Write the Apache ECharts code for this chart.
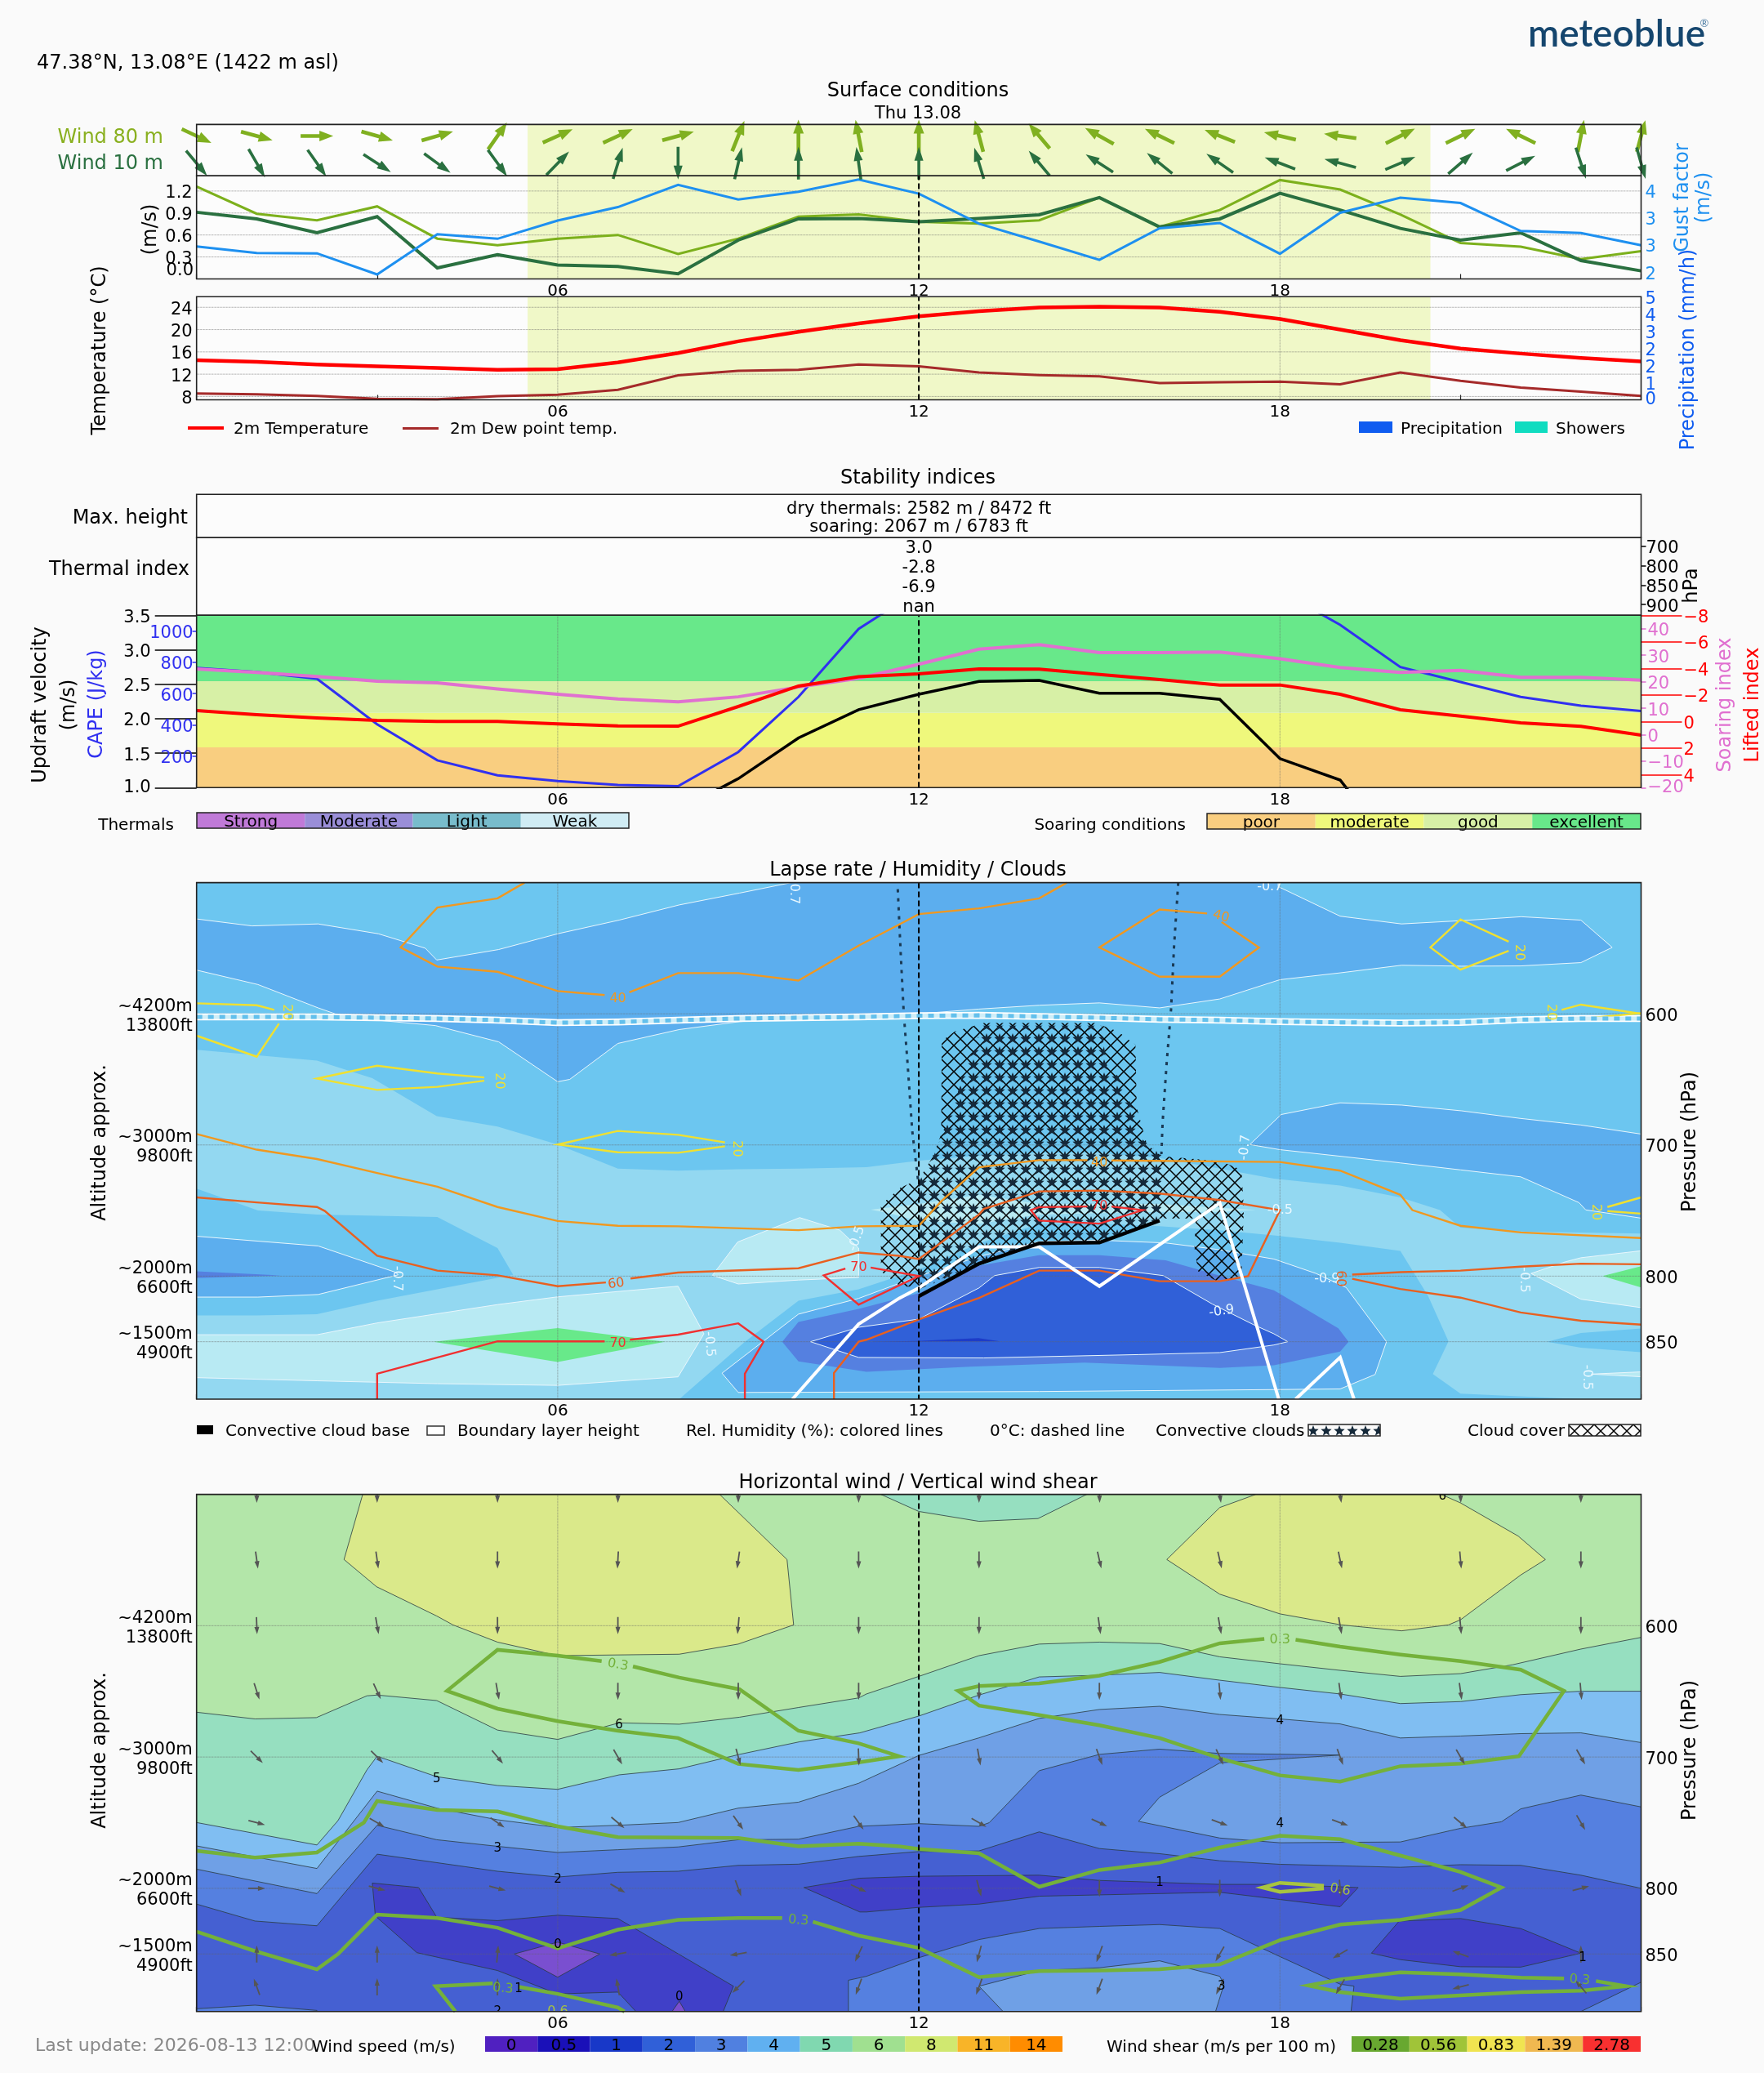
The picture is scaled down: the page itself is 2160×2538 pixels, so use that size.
<!DOCTYPE html>
<html><head><meta charset="utf-8"><title>meteoblue</title>
<style>html,body{margin:0;padding:0;background:#fafafa}#c{width:2160px;height:2538px}</style>
<script src="https://cdn.jsdelivr.net/npm/echarts@6/dist/echarts.min.js"></script>
</head><body><div id="c"></div>
<script>
// ---------- surface conditions ----------
const hourTicks = ['06', '12', '18'];
const wind80Heading = [115,105,90,106,74,35,66,65,75,22,0,-11,0,-15,-40,-61,-64,-68,-77,-82,63,64,-64,11,15];
const wind10Heading = [140,150,145,123,126,144,44,17,180,13,0,-8,0,-17,-40,-57,-51,-55,-69,-75,67,49,63,162,164];
const wind80Speed = [1.26,0.89,0.80,0.99,0.55,0.46,0.55,0.60,0.34,0.55,0.85,0.88,0.78,0.755,0.80,1.11,0.71,0.94,1.35,1.22,0.88,0.49,0.44,0.27,0.38];
const wind10Speed = [0.91,0.82,0.63,0.85,0.15,0.33,0.19,0.17,0.07,0.53,0.82,0.825,0.78,0.825,0.875,1.11,0.71,0.82,1.17,0.94,0.69,0.53,0.63,0.25,0.11];
const gustFactor = [2.63,2.47,2.46,1.94,2.93,2.82,3.27,3.60,4.15,3.79,3.98,4.28,3.93,3.19,2.75,2.30,3.08,3.21,2.45,3.46,3.83,3.70,3.01,2.96,2.66];
const temperature2m = [14.5,14.2,13.75,13.4,13.1,12.8,12.9,14.1,15.8,17.9,19.6,21.1,22.4,23.3,23.95,24.1,23.95,23.2,21.9,20,18.1,16.6,15.7,14.9,14.3];
const dewPoint2m = [8.55,8.4,8.1,7.6,7.5,8.05,8.3,9.2,11.8,12.6,12.8,13.75,13.4,12.3,11.85,11.6,10.4,10.55,10.65,10.2,12.3,10.8,9.6,8.85,8.1];
const speedTicks = [0.3,0.6,0.9,1.2];
const gustTicks = [2,8/3,10/3,4];
const tempTicks = [8,12,16,20,24];
const precipTicks = [5/6,5/3,2.5,10/3,25/6,5];
const precipTickLabels = ['1','2','2','3','4','5'];

// ---------- stability indices ----------
const updraft = [null,null,null,null,null,null,null,null,0.67,1.13,1.72,2.13,2.355,2.54,2.556,2.37,2.37,2.28,1.42,1.11,0.0,null,null,null,null];
const cape = [763,737,694,404,174,78,42,17,9,227,578,1012,1258,1500,1500,1500,1500,1500,1253,1038,769,673,578,522,488];
const soaringIndex = [24.8,23.5,22,20.2,19.6,17.3,15.3,13.5,12.4,14.3,18,21.3,26.6,32.3,34,31,31,31.2,28.7,25.4,23.5,24.3,21.7,21.7,20.6];
const liftedIndex = [-0.82,-0.51,-0.27,-0.08,0,0,0.18,0.33,0.35,-1.13,-2.67,-3.38,-3.59,-3.96,-3.94,-3.55,-3.16,-2.75,-2.75,-2.05,-0.88,-0.41,0.10,0.37,1.03];
const updraftTicks = [1,1.5,2,2.5,3,3.5];
const capeTicks = [200,400,600,800,1000];
const soaringTicks = [-20,-10,0,10,20,30,40];
const liftedTicks = [-8,-6,-4,-2,0,2,4];
const soaringThresholds = [1,1.585,2.086,2.544,3.5];
const thermalLevels = ['700','800','850','900'];
const thermalValues = ['3.0','-2.8','-6.9','nan'];
const thermalsLegend = ['Strong','Moderate','Light','Weak'];
const soaringLegend = ['poor','moderate','good','excellent'];

// ---------- lapse rate bands: [hour, hPa] outlines ----------
const P0 = 500, P1 = 893.8;
const lapseFull = [[0,P0],[24,P0],[24,P1],[0,P1]];
const lapseLight = [[0,627.4],[2,635.7],[2.92,649],[3.99,678],[5,686],[6,699.7],[7,718],[8,719.6],[9,718.5],[10,718],[11.13,717],[12,712],[13,708],[14,706],[15,706],[16,710],[17,718],[17.9,725.7],[19,731],[20,740],[20.66,749.6],[21,763],[22,766],[24,767.5],[24,P1],[0,P1]];
const lapseMidLeft = [[0,733.3],[1.02,750],[2,753],[4,755],[5,778.6],[5.26,799],[4,810],[3,818.7],[2,829],[1,830],[0,830]];
const lapseMidCentre = [[8.02,P1],[9.11,850],[10,818.7],[11,810],[12,795],[13,775],[14,760],[15,760],[16,762],[17,765],[17.9,769],[19,774.5],[20,780.8],[20.46,815],[20.8,849.7],[20.54,874.7],[21,889.6],[23,P1]];
const lapseMidRight = [[22.44,850],[23,843.3],[24,840],[24,858],[23,854.5]];
const lapsePaleLeft = [[0,844.7],[2,844.7],[3,835.7],[5,821.7],[6,815.8],[8,807.7],[8.43,844],[8,876.8],[6,883.3],[4,882],[2,879.8],[0,877.4]];
const lapsePaleMid = [[8.57,799.4],[8.99,774],[10.02,755.4],[10.69,765],[11,778.6],[11,801],[10,803],[9,806]];
const lapsePaleCloud = [[11.2,749.4],[12,745],[13,738],[14,745],[15,745],[16,745],[17,748],[17.6,749.5],[17,751],[16,751],[15,752],[14,753],[13,760],[12,758],[11.5,752]];
const lapsePaleRight = [[22.17,798],[22.75,789],[23,786],[24,780.7],[24,824],[23,817.6]];
const lapsePaleSliver = [[23.17,874.7],[24,873],[24,876.7]];
const lapseGreenLeft = [[3.94,850],[6,839.6],[7.78,850],[6,865.5]];
const lapseGreenRight = [[23.36,800],[24,792.5],[24,808.7]];
const lapseBlueTop = [[0,527.7],[0.92,533],[2.02,531.5],[3.02,539],[3.8,550],[3.99,559],[5.02,551],[6,539],[7.02,528.6],[8.02,517],[9.02,508],[9.88,500],[17.97,500],[17.97,503],[19,525.6],[20.02,531.5],[21.02,529],[22.01,526],[23,528.6],[23.52,549.4],[23,561],[22,563.5],[21.02,563.7],[20.02,563],[19,568.8],[18,574],[17,588.7],[16,595.5],[15,591.7],[14,593.5],[13,596.4],[12,600],[11,602],[10,603],[9.02,606],[8.02,612],[7,622.6],[6.2,650],[6,651.8],[5.02,621.4],[3.97,609],[2.92,604.5],[2.3,600],[2.02,595.5],[1.02,577.7],[0,566.7]];
const lapseBlueLeft = [[0,769.6],[2.02,777],[3.3,797],[3.35,799],[2.02,814],[1.02,816],[0,816]];
const lapseBlueRight = [[18.02,676.8],[19,667.9],[20.02,669.6],[21.02,674],[22,679.8],[23,684.8],[24,691.7],[24,755.8],[23.08,749.5],[22.97,744],[22,724.3],[21,719],[20,713.7],[19,708.6],[18,703.6],[17.5,699.7]];
const lapseBlueCentre = [[8.73,874],[10,829],[11,817],[12,800],[13,785],[14,773.7],[15,772.6],[16.1,774.7],[17,779.9],[17.9,787],[18.6,798],[19.1,808.7],[19.77,850],[19.58,875],[19,886],[17.9,886.5],[14,888],[9,888.7]];
const lapseDeepLeft = [[0,796.4],[1.4,799.4],[0,801.5]];
const lapseDeepCentre = [[9.73,850],[10,835],[11,825],[12,813],[13,792],[14,784],[15,784],[16.1,788],[17,799.6],[17.9,810.8],[18.97,839.8],[19.14,850],[19,857.5],[17.9,868],[17,870],[14.75,866],[12.85,869],[11.13,873],[10,865]];
const lapseCore = [[10.2,850],[11,839],[12,832.8],[13,809],[13.26,799.6],[14,793.4],[15,793.4],[16.06,799.6],[16.88,821.4],[17.56,837],[17.9,844],[18.13,850],[17.9,852.5],[17,858.3],[15.66,859.8],[13.08,862.4],[11,862]];
const lapseCoreDark = [[11.13,850],[12,849.5],[12.99,847.3],[13.35,849.8]];

// ---------- clouds ----------
const cloudCover = [[13.08,607],[14.93,607],[15.31,613.4],[15.6,623.8],[15.62,671.4],[15.79,699.7],[16.03,708.6],[17.02,712.5],[17.36,719],[17.4,748.8],[17.36,799.4],[17.02,805.4],[16.64,796.4],[16.58,778.6],[16.6,756],[16,756],[15,774],[14,774],[13,792],[12,808],[11.7,808],[11.37,796.4],[11.37,745.8],[11.7,732.4],[12,726.5],[12.22,710],[12.37,692],[12.38,620.8],[12.6,613.4]];
const convectiveClouds = [[12.98,609],[15.03,609],[15.12,638.7],[15.31,647.6],[15.55,671.4],[15.69,695],[16.03,707],[16.03,756],[15,774],[14,774],[13,792],[12,810],[12,728],[12.22,711.6],[12.37,693.8],[12.65,659.5],[12.77,638.7],[12.98,623.8]];
const cloudEdgeLeft = [[11.65,505],[11.7,555],[11.75,600],[11.81,636],[11.89,689],[11.99,728]];
const cloudEdgeRight = [[16.31,500],[16.24,549],[16.19,597],[16.12,636],[16.05,683],[16.03,707]];
const cloudBase = [[12,815.4],[13,790.5],[14,775],[15,774.4],[16,757.7]];
const boundaryLayer = [[9.9,P1],[11,836.6],[11.67,817],[12,809],[13,777.7],[14,777.7],[15,807.7],[17,744.3],[17.98,P1],[null,null],[18.26,P1],[19,861.9],[19.23,P1]];
const zeroDegree = [602.4,602.4,602.4,603,603.6,604.8,606.8,606.3,604.8,603.6,603,602.4,601.5,601.2,602.1,603,604.2,604.8,606,606.5,607,606.5,604.5,603.6,603.6];

// ---------- humidity contours ----------
const rh20 = [
 [[0,592],[1,593.5],[1.29,597]], [[1.37,607.4],[1,632.7],[0,616.7]],
 [[4.78,648.5],[4,645.5],[3,639.6],[2,649.4],[3,658],[4,655.7],[4.78,651]],
 [[8.78,698],[8,692.3],[7,689.3],[6,699.7],[7,705.6],[8,706],[8.78,701]],
 [[21.8,545],[21,528],[20.5,549.4],[21,566.4],[21.8,552]],
 [[22.68,597],[23,593],[24,600]], [[23.2,603],[24,599.5]],
 [[23.44,747.3],[24,740]], [[23.44,750.4],[24,752.4]]];
const rh40 = [
 [[5.45,500],[5,512],[4,519],[3.39,549.4],[4,564],[5,568],[6,582.7],[6.78,585.7]],
 [[7.19,583.6],[8,569],[9,569],[10,574.7],[11,548],[11.67,532],[12,524],[13,519.6],[14,512],[14.46,500]],
 [[16.79,523.5],[16,520.5],[15,549.4],[16,571.7],[17,571.7],[17.65,549.4],[17.03,530]],
 [[0,691.7],[1,703.6],[2,710.7],[3,721.4],[4,731.8],[5,747.3],[6,758],[7,761.6],[8,762],[10,765],[11,762],[12,761.6],[12.37,743],[13,717],[14,711.6],[14.8,711.6]],
 [[15.2,711.8],[18,713],[19,719.6],[20,738],[20.2,749.7],[21,761.6],[22,766.7],[24,771]]];
const rh60 = [
 [[0,740],[1,743.8],[2,747.3],[2.13,750.3],[3,784.5],[4,795.8],[5,799.4],[6,807.7],[6.8,804.8]],
 [[7.21,801.8],[8,797.3],[10,794],[11,782],[11.67,784.5],[12,787],[13,753],[13.08,748.8],[14,735.4],[15,734.8],[16,737],[17,742],[18,749.7],[17.47,800],[17,803.9],[16,803.9],[15,795.8],[14,795.8],[13,816.7],[12,833],[11.13,848.5],[11,850],[10.59,873.8],[10.59,P1]],
 [[19.2,798.8],[20,797],[21,795.8],[22,792.8],[23,790.5],[24,791]],
 [[19.2,802],[20,809.8],[21,816.4],[22,827.7],[23,834],[24,837]]];
const rh70 = [
 [[3,P1],[3,874.4],[5,849.7],[6.78,849.7]],
 [[7.2,848.5],[8,844.6],[9,836],[9.42,850],[9.11,874.4],[9.11,P1]],
 [[10.78,794.3],[10.42,799.4],[11,821.7],[12,800],[11.2,793.5]],
 [[14.8,746.9],[14,747.4],[13.86,749.7],[14,757.7],[15,760],[15.72,749.7],[15.2,746.9]]];

// ---------- contour labels ----------
const lapseLabels = [[3.33,800,'-0.7',-90],[8.52,850,'-0.5',-85],[10.97,769.6,'-0.5',70],[17.42,700,'-0.7',85],[18,747.9,'-0.5',0],[17.03,825,'-0.9',8],[18.78,800,'-0.9',0],[22.06,801,'-0.5',-90],[23.1,875.3,'-0.5',-90],[17.83,501.5,'-0.7',0],[9.92,505,'-0.7',-90]];
const rhLabels = [[1.5,597,'20',-90,'#f0e030'],[5.02,649.4,'20',-90,'#f0e030'],[8.97,701,'20',-90,'#f0e030'],[21.97,551.5,'20',-90,'#f0e030'],[22.5,597,'20',-90,'#f0e030'],[23.25,749.4,'20',-90,'#f0e030'],[7,586.6,'40',0,'#f09820'],[17.02,524,'40',-15,'#f09820'],[15,711.6,'40',0,'#f09820'],[6.97,804,'60',8,'#e86020'],[19,800,'60',-90,'#e86020'],[7,849.4,'70',0,'#f03030'],[11,791.4,'70',0,'#f03030'],[15,745,'70',0,'#f03030']];

// ---------- horizontal wind: top boundary of each speed band ----------
const wsBand8a = [[2.76,500],[2.45,549.6],[2.99,570.3],[3.99,592.6],[4.26,599.4],[5,612.5],[6,622.8],[8.02,621.7],[9,614],[9.92,599.4],[9.81,549.6],[8.69,500]];
const wsBand8b = [[17.6,500],[17,510],[16.12,549.6],[17,576],[18,591],[19.02,599.4],[20.02,603.9],[20.8,599.4],[21,595.5],[22,561.4],[22.41,549.6],[21.96,531.8],[21,506.5],[20.68,500]];
const wsBand5Top = [[11.37,500],[12,513],[13,520.5],[13.98,518.4],[14.79,500]];
const wsBoundary5 = [[0,665.9],[0.97,671],[1.99,670],[2.83,653.4],[3,652.8],[3.99,657],[5,679.5],[6,686.6],[7.02,674],[8.02,675],[9.02,669.7],[10,662.3],[11,655],[11.13,652],[12,638.6],[13,622.8],[14,614],[15,612.5],[16,613.6],[17,623.7],[18,629],[19,634],[20,638.6],[21,636.5],[21.87,629.7],[23,617.8],[24,608.9]];
const wsBoundary4 = [[0,749.9],[2,767],[2.35,748.4],[2.83,709.8],[3,699.4],[3.99,715],[5,721.7],[6,724.6],[7.02,713.6],[8.02,709],[9.02,698],[10.02,688.4],[11.02,681.6],[12,668.8],[13,652.8],[14,639],[15,637.7],[16,635.6],[17,641.5],[18,647],[19,652],[20,659.3],[21,657.8],[22,652.5],[23,649.9],[24,649.9]];
const wsBoundary3 = [[0,767.7],[2,784.9],[3,726],[4,739],[5,747.8],[6,753.7],[7,752],[8,749.9],[9,738.9],[10,734.4],[11,720],[12,698.8],[13,685.4],[14,670.6],[15,663.8],[16,661.4],[17,667.6],[18,671],[19,674.8],[20,685.5],[21,684],[22,682.2],[23,681.6],[24,689]];
const wsBoundary2 = [[0,785.4],[2,804],[3,752],[3.99,763],[5,768],[6,772.7],[7,770.6],[8,768.5],[9,763],[10,762.6],[11,752.8],[12,750.7],[13,752.8],[13.17,750],[14,710.4],[15,698],[16,694],[17,697.3],[19,698.5],[17,704.5],[16,730.6],[15.65,749],[17,761.7],[18,765.3],[20,764.7],[21,754.3],[21.68,749.3],[22,739.5],[23,729],[24,738]];
const wsBoundary1 = [[0,812],[0.97,824.9],[2,828.5],[3,774],[5,787],[6,791.4],[7,787.8],[8,787],[9,782.5],[10,781.6],[11,775.7],[12,772],[13,771.5],[14,757],[15,769.7],[16,773.6],[17,779],[18,781.7],[20,784],[21,782],[22,782.5],[23,790],[24,800]];
const wsLowLeft = [[0,891.7],[0.97,889],[2,893],[2,P1],[0,P1]];
const wsLowMid = [[10.83,P1],[10.83,870],[11.13,867],[12,852.8],[13,839],[14,830.6],[15,829],[16,827.6],[17,830.6],[18,852],[19,873],[19.23,874.5],[19.18,P1]];
const wsLowRight = [[23,P1],[24,871.5],[24,P1]];
const wsLowInner = [[13.4,P1],[13,874.5],[14,862.6],[15,860.5],[16,855.2],[17,867],[17.07,873],[16.93,P1]];
const wsSlowLeft = [[2.92,796],[3.69,799.4],[3.99,822],[5,824.6],[6,820.5],[7,823],[8.92,874.5],[8.75,P1],[7.3,P1],[7,879],[6,880.4],[5,862.6],[3.66,849],[2.97,821]];
const wsSlowCentre = [[10.09,799.4],[11.02,792.3],[12,790.8],[14,790],[15,794],[17,797],[18,797],[19.3,799.4],[19,814],[17,803],[14,806],[13,812],[12,814.5],[11.13,818],[11.02,818]];
const wsSlowRight = [[19.52,849.4],[19.98,825],[21,823],[22,830.6],[23,849.4],[22,860],[21,859.7],[20,854.3]];
const wsCalmA = [[5.28,850],[6,841],[6.7,850],[6,867.7]];
const wsCalmB = [[7.9,P1],[8.02,886],[8.12,P1]];

// ---------- vertical wind shear contours ----------
const shear03 = [
 [[6.73,627],[6,622.8],[5,618.4],[4.16,649.6],[5,663.2],[6,672.7],[7,680],[8,685.5],[9,705.3],[10,709.8],[11.02,703.9],[11.67,699.4],[11,689.6],[10,680],[9.02,648.4],[8.02,639.5],[7.25,631]],
 [[17.74,610],[17,613.4],[16,627.6],[15,638],[14,644],[13,646],[12.65,649.6],[13,660.8],[14,668],[15,675.8],[16,685.5],[17,700.9],[18,714],[19,718.7],[20,707],[21,705],[21.97,699.4],[22.72,649.6],[22,633.5],[21,627],[20,622],[19,616],[18.26,610.7]],
 [[0,771.5],[0.97,776.6],[2,772.7],[2.78,749.9],[3,733.5],[4,740.4],[5,741.5],[6,752.8],[7,761],[9,761.7],[10,768],[11,766],[11.67,768],[12,770],[13,773.3],[14,798.8],[15,786],[16,780.4],[17,769],[18,760],[19,762.6],[20,775],[21,787.5],[21.68,799.4],[21,816.6],[20,824],[19,827.6],[18,839.5],[17,858],[16,861.7],[15,862.6],[14,863],[13,867.7],[12,845.4],[11,836],[10.24,825.5]],
 [[9.73,822.6],[9,822.6],[8,824],[7,831.5],[6,845.7],[5,830],[4,822.6],[3,820],[2.35,850],[2,861.7],[0.97,847.8],[0,833]],
 [[22.72,868.6],[22,868],[21,865.6],[20,864],[19,869.4],[18.47,874],[19,879],[20,884],[22,879],[23,878],[23.75,874.5],[23.25,870.6]],
 [[7.11,P1],[7,890.8],[6,880.4],[5.35,875]], [[4.92,872.4],[3.97,874.5],[4.3,P1]]];
const shear06 = [[18.73,798],[18,795.8],[17.71,799.4],[18,802.7],[18.73,800]];
const shearLabels = [[7,628,'0.3',-10,'#74b13a'],[10,822.6,'0.3',-5,'#74b13a'],[5.09,874.5,'0.3',-5,'#74b13a'],[6,892,'0.6',0,'#a8c440'],[18,609,'0.3',0,'#74b13a'],[22.98,868,'0.3',-5,'#74b13a'],[19,799.4,'0.6',-10,'#a8c440']];
const speedLabels = [[7.02,674,'6'],[3.99,715,'5'],[5,768,'3'],[6,791.4,'2'],[6,841,'0'],[5.35,875,'1'],[5,892,'2'],[8.02,881,'0'],[18,671,'4'],[18,749,'4'],[16,794,'1'],[17.03,873,'3'],[23.03,851,'1'],[20.7,500,'6']];

// ---------- wind arrows aloft: heading in degrees at each level ----------
const aloftHours = [1,3,5,7,9,11,13,15,17,19,21,23];
const aloftLevels = [500,550,600,650,700,750,800,850,875];
const aloft500 = [180,180,180,180,180,180,180,178,172,172,178,180];
const aloft550 = [172,172,180,183,188,180,180,167,167,168,175,180];
const aloft600 = [178,170,180,180,185,180,180,172,170,170,175,180];
const aloft650 = [162,155,170,180,180,180,180,180,175,172,172,175];
const aloft700 = [135,135,140,150,165,178,170,160,155,160,150,150];
const aloft750 = [105,120,125,130,145,145,120,115,110,110,130,150];
const aloft800 = [90,105,105,120,160,115,165,180,180,175,70,75];
const aloft850 = [0,0,5,260,260,205,195,200,210,240,290,0];
const aloft875 = [340,0,0,350,225,200,200,200,205,210,255,320];
const aloftHeading = [aloft500,aloft550,aloft600,aloft650,aloft700,aloft750,aloft800,aloft850,aloft875];

// ---------- axis tick labels ----------
const pressureTicks = [600,700,800,850];
const altitudeLabels = ['~4200m\n13800ft','~3000m\n9800ft','~2000m\n6600ft','~1500m\n4900ft'];
const windLegendLabels = ['0','0.5','1','2','3','4','5','6','8','11','14'];
const windLegendColors = ['#5020c0','#1a10b8','#1838c8','#3060d8','#5080e0','#60b0f0','#80d8b0','#a0e090','#d0e870','#f8b428','#ff8c00'];
const shearLegendLabels = ['0.28','0.56','0.83','1.39','2.78'];
const shearLegendColors = ['#68a830','#a0c438','#f0e450','#f0b850','#f83030'];
const soaringColors = ['#f9ce80','#eff87c','#d7f0a6','#68e88a'];
const thermalsColors = ['#c07ad8','#9a8ed8','#78bccc','#d0ecf4'];

// ---------- layout ----------
const FONT = '"DejaVu Sans"';
const LEFT = 240.7, WIDTH = 1768.8;
const LABEL_DROP_PX = 3;
const panels = [[152.4,215.3],[215.3,341.5],[363.3,489.5],[605.3,658.3],[658.3,753.3],[753.3,964.3],[1080.6,1713],[1829.6,2462.7]];
const grid = panels.map(p => ({left:LEFT, width:WIDTH, top:p[0], height:p[1]-p[0], show:true, backgroundColor:'#fcfcfc', borderWidth:0}));

const hatchCanvas = (() => { const c=document.createElement('canvas'); c.width=c.height=16; const g=c.getContext('2d');
  g.strokeStyle='#000'; g.lineWidth=1.5; g.beginPath(); g.moveTo(0,0); g.lineTo(16,16); g.moveTo(16,0); g.lineTo(0,16); g.stroke(); return c; })();
const starCanvas = (() => { const c=document.createElement('canvas'); c.width=c.height=16; const g=c.getContext('2d');
  g.fillStyle='#15293a'; g.beginPath();
  for(let i=0;i<10;i++){ const r=i%2?3:7, a=-Math.PI/2+i*Math.PI/5; g.lineTo(8+r*Math.cos(a),8+r*Math.sin(a)); }
  g.closePath(); g.fill(); return c; })();
const hatchFill = {image:hatchCanvas, repeat:'repeat'};
const starFill = {image:starCanvas, repeat:'repeat'};

const xAxes = panels.map((p,i) => ({
  gridIndex:i, type:'value', min:0, max:24, interval:3,
  axisLine:{show:false,onZero:false}, splitLine:{show:false},
  axisTick:{show:![0,3,4].includes(i), inside:true, length:6, lineStyle:{color:'#222',width:1.2}},
  axisLabel:{show:![0,3,4].includes(i), fontFamily:FONT, fontSize:20, color:'#000', margin:5,
    formatter:v => (v>0&&v<24&&v%6===0) ? hourTicks[v/6-1] : ''}
}));

const minus = v => String(v).replace('-','\u2212');
const hiddenY = (g,min,max,extra) => Object.assign({gridIndex:g,type:'value',min,max,show:false,splitLine:{show:false},axisLine:{show:false,onZero:false}},extra||{});
// tick labels sit a few pixels below their ticks, as in the original figure
const tickY = (g,min,max,pos,vals,color,len,margin,fmt,extra) => {
  const inverse = !!(extra&&extra.inverse);
  const pxUnit = (max-min)/(panels[g][1]-panels[g][0]);
  const shifted = vals.map(v=>Math.min(max,Math.max(min,v+(inverse?1:-1)*LABEL_DROP_PX*pxUnit)));
  const format = fmt||(v=>String(v));
  return Object.assign({
    gridIndex:g,type:'value',min,max,position:pos,splitLine:{show:false},axisLine:{show:false,onZero:false},
    axisTick:{show:len>0,length:len,customValues:vals,lineStyle:{color,width:1.5}},
    axisLabel:{customValues:shifted,color,fontFamily:FONT,fontSize:21,margin,showMinLabel:true,showMaxLabel:true,hideOverlap:false,
      formatter:s=>{let best=0;shifted.forEach((t,i)=>{if(Math.abs(t-s)<Math.abs(shifted[best]-s))best=i;});return format(vals[best]);}}
  },extra||{});
};

const yAxes = [
  hiddenY(0,0,1),
  tickY(1,0,1.407,'left',speedTicks,'#000',0,5,v=>v.toFixed(1)),
  tickY(1,1.83,4.37,'right',gustTicks,'#1e90f0',0,5,v=>String(Math.round(v))),
  tickY(2,7.4,25.9,'left',tempTicks,'#000',0,5),
  tickY(2,0,5,'right',precipTicks,'#0f5cf0',0,5,v=>precipTickLabels[precipTicks.indexOf(v)]),
  hiddenY(3,0,1),
  tickY(4,-0.451,3.557,'right',[0,1,2,3],'#000',6,6,v=>thermalLevels[v],{inverse:true}),
  tickY(5,1,3.5,'left',updraftTicks,'#000',51,56,v=>v.toFixed(1)),
  tickY(5,0,1098.7,'left',capeTicks,'#3030f0',5,4),
  tickY(5,-20,45.1,'right',soaringTicks,'#e070d0',6,8,minus),
  tickY(5,-8,4.98,'right',liftedTicks,'#ff0000',50,52,minus,{inverse:true}),
  tickY(6,P0,P1,'left',pressureTicks,'#000',0,5,v=>altitudeLabels[pressureTicks.indexOf(v)],{inverse:true}),
  tickY(6,P0,P1,'right',pressureTicks,'#000',0,5,null,{inverse:true}),
  tickY(7,P0,P1,'left',pressureTicks,'#000',0,5,v=>altitudeLabels[pressureTicks.indexOf(v)],{inverse:true}),
  tickY(7,P0,P1,'right',pressureTicks,'#000',0,5,null,{inverse:true})
];
[11,13].forEach(i=>{yAxes[i].axisLabel.lineHeight=24;});

// ---------- series helpers ----------
const hourly = arr => arr.map((v,i)=>[i,v]);
const polys = (g,yi,layers,z) => ({type:'custom',coordinateSystem:'cartesian2d',xAxisIndex:g,yAxisIndex:yi,silent:true,clip:true,z:z||2,
  data:layers.map((l,i)=>[i]),
  renderItem:(p,api)=>{const l=layers[p.dataIndex];return {type:'polygon',shape:{points:l[0].map(a=>api.coord(a))},
    style:{fill:l[1],stroke:l[2]||'none',lineWidth:l[3]||0,opacity:l[4]==null?1:l[4]}};}});
const line = (g,yi,data,color,width,z,dash) => ({type:'line',xAxisIndex:g,yAxisIndex:yi,data,showSymbol:false,symbol:'none',silent:true,z:z||4,
  connectNulls:false,lineStyle:{color,width,type:dash||'solid',cap:'butt',join:'miter'}});
const many = (g,yi,list,color,width,z) => list.map(d=>line(g,yi,d,color,width,z));
const frame = (g,yi,lw) => ({type:'custom',coordinateSystem:'cartesian2d',xAxisIndex:g,yAxisIndex:yi,silent:true,z:8,clip:false,data:[[0]],
  renderItem:p=>({type:'rect',shape:{x:p.coordSys.x,y:p.coordSys.y,width:p.coordSys.width,height:p.coordSys.height},style:{fill:'none',stroke:'#222',lineWidth:lw||1.6}})});
const dataText = (g,yi,items,size,defColor,clip) => ({type:'custom',coordinateSystem:'cartesian2d',xAxisIndex:g,yAxisIndex:yi,silent:true,clip:clip!==false,z:7,
  data:items.map((l,i)=>[i]),
  renderItem:(p,api)=>{const l=items[p.dataIndex],c=api.coord([l[0],l[1]]);return {type:'text',x:c[0],y:c[1]+3,rotation:(l[3]||0)*Math.PI/180,
    style:{text:l[2],fill:l[4]||defColor,font:size+'px '+FONT,align:'center',verticalAlign:'middle'}};}});
const arrows = (g,yi,points,color,len,shaft,headW,headL,clip,opacity) => ({type:'custom',coordinateSystem:'cartesian2d',xAxisIndex:g,yAxisIndex:yi,silent:true,clip,z:6,
  data:points.map((a,i)=>[i]),
  renderItem:(p,api)=>{const a=points[p.dataIndex],c=api.coord([a[0],a[1]]),t=a[2]*Math.PI/180,dx=Math.sin(t),dy=-Math.cos(t),nx=-dy,ny=dx;
    const at=(s,w)=>[c[0]+dx*s+nx*w,c[1]+dy*s+ny*w];
    const neck=len/2-headL;
    return {type:'polygon',shape:{points:[at(-len/2,shaft/2),at(neck,shaft/2),at(neck,headW/2),at(len/2,0),at(neck,-headW/2),at(neck,-shaft/2),at(-len/2,-shaft/2)]},style:{fill:color,opacity:opacity||1}};}});
const gridLines = (g,yi,hLines,yMin,yMax,dash12) => {
  const out=hLines.map(v=>line(g,yi,[[0,v],[24,v]],'#666',0.7,3,'dotted'));
  [6,18].forEach(h=>out.push(line(g,yi,[[h,yMin],[h,yMax]],'#666',0.7,3,'dotted')));
  if(dash12) out.push(line(g,yi,[[12,yMin],[12,yMax]],'#000',2,6,[7,4]));
  return out; };
const daylight = (g,yi,a,b) => polys(g,yi,[[[[5.5,a],[20.5,a],[20.5,b],[5.5,b]],'#f0f8c8']],1);

const LIGHT='#93d8f1',MID='#6cc6f0',BLUE='#5caeee',DEEP='#5580e0',CORE='#3060d8',PALE='#b8eaf3',GREEN='#68e98a',WL='#e8f6fc';
const lapseLayers = [
 [lapseFull,MID],[lapseLight,LIGHT],[lapseMidLeft,MID],[lapseMidCentre,MID],[lapseMidRight,MID],
 [lapsePaleLeft,PALE,WL,1],[lapsePaleMid,PALE,WL,1],[lapsePaleCloud,PALE],[lapsePaleRight,PALE,WL,1],[lapsePaleSliver,PALE,WL,1],
 [lapseGreenLeft,GREEN],[lapseGreenRight,GREEN],
 [lapseBlueTop,BLUE,WL,1],[lapseBlueLeft,BLUE,WL,1],[lapseBlueRight,BLUE,WL,1],[lapseBlueCentre,BLUE,WL,1],
 [lapseDeepLeft,DEEP],[lapseDeepCentre,DEEP],[lapseCore,CORE,WL,1],[lapseCoreDark,'#1d3cc8']
];
const closeDown = b => b.concat([[24,P1],[0,P1]]);
const EDGE='#2a3a40';
const windLayers = [
 [lapseFull,'#b3e6a9'],[wsBand5Top,'#96dfc0',EDGE,0.8],[wsBand8a,'#dae98a',EDGE,0.8],[wsBand8b,'#dae98a',EDGE,0.8],
 [closeDown(wsBoundary5),'#96dfc0',EDGE,0.8],[closeDown(wsBoundary4),'#80bef2',EDGE,0.8],[closeDown(wsBoundary3),'#6fa0e6',EDGE,0.8],
 [closeDown(wsBoundary2),'#5580e0',EDGE,0.8],[closeDown(wsBoundary1),'#4560d2',EDGE,0.8],
 [wsLowLeft,'#5580e0',EDGE,0.8],[wsLowMid,'#5580e0',EDGE,0.8],[wsLowRight,'#5580e0',EDGE,0.8],[wsLowInner,'#6fa0e6',EDGE,0.8],
 [wsSlowLeft,'#4040c8',EDGE,0.8],[wsSlowCentre,'#4040c8',EDGE,0.8],[wsSlowRight,'#4040c8',EDGE,0.8],
 [wsCalmA,'#7a4fd0',EDGE,0.8],[wsCalmB,'#7a4fd0',EDGE,0.8]
];
const wind80pts = wind80Heading.map((h,i)=>[i,0.776,h]);
const wind10pts = wind10Heading.map((h,i)=>[i,0.246,h]);
const aloftPts = [];
aloftLevels.forEach((lv,r)=>aloftHours.forEach((h,c)=>aloftPts.push([h,lv,aloftHeading[r][c]])));
const soaringBands = soaringColors.map((c,i)=>[[[0,soaringThresholds[i]],[24,soaringThresholds[i]],[24,soaringThresholds[i+1]],[0,soaringThresholds[i+1]]],c]);

const series = [
  // wind arrows
  daylight(0,0,0,1), arrows(0,0,wind80pts,'#80b020',40,4.6,13,17,false), arrows(0,0,wind10pts,'#2a7040',40,3.6,11,17,false),
  line(0,0,[[12,0],[12,1]],'#000',2,5,[7,4]), frame(0,0),
  // speed
  daylight(1,1,0,1.407), ...gridLines(1,1,speedTicks,0,1.407,true),
  line(1,1,hourly(wind80Speed),'#7cb01c',3,4), line(1,1,hourly(wind10Speed),'#2a7040',4,4.5), line(1,2,hourly(gustFactor),'#1e90f0',3,5), frame(1,1),
  // temperature
  daylight(2,3,7.4,25.9), ...gridLines(2,3,tempTicks,7.4,25.9,true),
  line(2,3,hourly(temperature2m),'#ff0000',4.5,4), line(2,3,hourly(dewPoint2m),'#a52a2a',3,4), frame(2,3),
  // max height, thermal index
  frame(3,5), dataText(3,5,[[12,0.72,'dry thermals: 2582 m / 8472 ft'],[12,0.294,'soaring: 2067 m / 6783 ft']],21,'#000'),
  frame(4,6), dataText(4,6,thermalValues.map((t,i)=>[12,i,t]),21,'#000'),
  // updraft
  polys(5,7,soaringBands,1), ...gridLines(5,7,[],1,3.5,true),
  line(5,8,hourly(cape),'#3030f0',3,4), line(5,9,hourly(soaringIndex),'#e070d0',4,4), line(5,10,hourly(liftedIndex),'#ff0000',4,5), line(5,7,hourly(updraft),'#000',3.5,5), frame(5,7),
  // lapse rate
  polys(6,11,lapseLayers,2),
  polys(6,11,[[cloudCover,hatchFill],[convectiveClouds,starFill]],3),
  line(6,11,cloudEdgeLeft,'#1a3a55',3,3,[4,7]), line(6,11,cloudEdgeRight,'#1a3a55',3,3,[4,7]),
  ...gridLines(6,11,pressureTicks,P0,P1,true),
  line(6,11,hourly(zeroDegree),'#ffffff',8.5,4), line(6,11,hourly(zeroDegree),'#cfeef8',5,4.1), line(6,11,hourly(zeroDegree),'#63c0ec',5,4.2,[7,7]),
  ...many(6,11,rh20,'#f0e030',2.4), ...many(6,11,rh40,'#f09820',2.4), ...many(6,11,rh60,'#e86020',2.4), ...many(6,11,rh70,'#f03030',2.4),
  line(6,11,boundaryLayer,'#ffffff',4,5), line(6,11,cloudBase,'#000',4.5,5),
  dataText(6,11,lapseLabels,16,'#e8f8ff'), dataText(6,11,rhLabels,16,'#f09820'), frame(6,11),
  // wind
  polys(7,13,windLayers,2), ...gridLines(7,13,pressureTicks,P0,P1,true),
  arrows(7,13,aloftPts,'#555555',21,1.8,6,9,true),
  ...many(7,13,shear03,'#74b13a',4.5), line(7,13,shear06,'#a8c440',4.5),
  dataText(7,13,speedLabels,15,'#000'), dataText(7,13,shearLabels,16,'#74b13a'), frame(7,13)
];

// ---------- static texts and legends ----------
const gfx = [];
const T = (x,y,text,size,color,align,rot) => gfx.push({type:'text',x:rot?x+2:x,y:rot?y:y+2.5,rotation:(rot||0)*Math.PI/180,silent:true,z:20,
  style:{text,font:size+'px '+FONT,fill:color||'#000',align:align||'left',verticalAlign:'middle'}});
const R = (x,y,w,h,fill,stroke) => gfx.push({type:'rect',silent:true,z:20,shape:{x,y,width:w,height:h},style:{fill,stroke:stroke||'none',lineWidth:stroke?1.5:0}});
const cells = (x,y,w,h,labels,colors,stroke) => { const cw=w/labels.length;
  labels.forEach((l,i)=>{ R(x+i*cw,y,cw,h,colors[i]); T(x+i*cw+cw/2,y+h/2,l,20,'#000','center'); });
  if(stroke) R(x,y,w,h,'none',stroke); };

gfx.push({type:'text',x:1871,y:42,silent:true,z:20,style:{text:'meteoblue',font:'600 46px Lato',fill:'#15466e',align:'left',verticalAlign:'middle'}});
gfx.push({type:'text',x:2087,y:29,silent:true,z:20,style:{text:'®',font:'13px Lato',fill:'#4f7fa5',align:'center',verticalAlign:'middle'}});
T(45,75,'47.38°N, 13.08°E (1422 m asl)',24);
T(1124,109,'Surface conditions',24,'#000','center');
T(1124,137,'Thu 13.08',21,'#000','center');
T(200,166,'Wind 80 m',24,'#8ab020','right');
T(200,198,'Wind 10 m',24,'#2a7040','right');
T(183,281,'(m/s)',24,'#000','center',90);
T(237,329,'0.0',21,'#000','right');
T(2014.5,487.5,'0',21,'#0f5cf0');
T(121,429,'Temperature (°C)',24,'#000','center',90);
T(2059,242,'Gust factor',24,'#1e90f0','center',90);
T(2085,242,'(m/s)',24,'#1e90f0','center',90);
T(2066,428,'Precipitation (mm/h)',24,'#0f5cf0','center',90);
gfx.push({type:'rect',silent:true,z:20,shape:{x:230,y:522,width:44,height:4},style:{fill:'#ff0000'}});
gfx.push({type:'rect',silent:true,z:20,shape:{x:493,y:523,width:44,height:3},style:{fill:'#a52a2a'}});
T(286,523,'2m Temperature',20); T(551,523,'2m Dew point temp.',20);
R(1664,516,41,14,'#0f5cf0'); T(1715,523,'Precipitation',20);
R(1855,516,40,14,'#10dcc0'); T(1905,523,'Showers',20);

T(1124,583,'Stability indices',24,'#000','center');
T(230,632,'Max. height',24,'#000','right');
T(232,695,'Thermal index',24,'#000','right');
T(2070,717,'hPa',24,'#000','center',90);
T(48,863,'Updraft velocity',24,'#000','center',90);
T(83,863,'(m/s)',24,'#000','center',90);
T(117,862,'CAPE (J/kg)',24,'#3030f0','center',90);
T(2111,863,'Soaring index',24,'#e070d0','center',90);
T(2145,863,'Lifted index',24,'#ff0000','center',90);
T(213,1008,'Thermals',20,'#000','right');
T(1452,1008,'Soaring conditions',20,'#000','right');
cells(241,995,529,19,thermalsLegend,thermalsColors,'#222');
cells(1478,996,531,19,soaringLegend,soaringColors,'#222');

T(1124,1063,'Lapse rate / Humidity / Clouds',24,'#000','center');
T(121,1399,'Altitude approx.',24,'#000','center',90);
T(2068,1398,'Pressure (hPa)',24,'#000','center',90);
R(241,1745,20,11,'#000'); T(276,1750,'Convective cloud base',20);
R(523,1746,21,11,'#fff','#333'); T(560,1750,'Boundary layer height',20);
T(840,1750,'Rel. Humidity (%): colored lines',20);
T(1212,1750,'0°C: dashed line',20);
T(1415,1750,'Convective clouds',20);
R(1602,1744,88,14,starFill,'#222');
T(1797,1750,'Cloud cover',20);
R(1921,1744,88,14,hatchFill,'#222');

T(1124,1813,'Horizontal wind / Vertical wind shear',24,'#000','center');
T(121,2143,'Altitude approx.',24,'#000','center',90);
T(2068,2143,'Pressure (hPa)',24,'#000','center',90);
T(43,2503,'Last update: 2026-08-13 12:00',22,'#888888');
T(382,2504,'Wind speed (m/s)',20);
cells(594,2493,707,19,windLegendLabels,windLegendColors);
T(1355,2504,'Wind shear (m/s per 100 m)',20);
cells(1655,2493,354,19,shearLegendLabels,shearLegendColors);

const chart = echarts.init(document.getElementById('c'),null,{renderer:'canvas',width:2160,height:2538});
chart.setOption({backgroundColor:'#fafafa',animation:false,grid,xAxis:xAxes,yAxis:yAxes,series,graphic:{elements:gfx}});
</script></body></html>
